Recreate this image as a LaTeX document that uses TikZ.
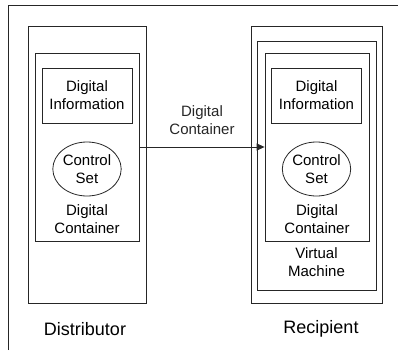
\documentclass[tikz,border=0pt]{standalone}
\usepackage{fontspec}
\setmainfont{Liberation Sans}
\usetikzlibrary{shapes.geometric,arrows.meta}

\begin{document}
\begin{tikzpicture}[x=1pt, y=-1pt, line width=0.8pt,
    box/.style={draw=black!85, rectangle, inner sep=0pt, align=center, font=\fontsize{15}{18}\selectfont},
    oval/.style={draw=black!85, ellipse, inner sep=0pt, align=center, font=\fontsize{15}{18}\selectfont},
    lbl/.style={align=center, inner sep=0pt, font=\fontsize{15}{18}\selectfont},
    side/.style={inner sep=0pt, font=\fontsize{18}{21}\selectfont}]
    \useasboundingbox (0,0) rectangle (398,350);
    % Frame
    \draw[black!85] (8,350) -- (8,5) -- (398,5);

    % Distributor
    \node[box, minimum width=118pt, minimum height=277pt] (dist) at (87,164.5) {};
    \node[box, minimum width=104pt, minimum height=188pt] (dc1) at (87,147) {};
    \node[box, minimum width=90pt, minimum height=55pt] (di1) at (87,95.5) {Digital\\Information};
    \node[oval, minimum width=64pt, minimum height=54pt] (cs1) at (87,169) {Control\\Set};
    \node[lbl] (dcl1) at (87,219.5) {Digital\\Container};
    \node[side] (distl) at (85,329) {Distributor};

    % Recipient
    \node[box, minimum width=131pt, minimum height=277pt] (rec) at (316.5,164.5) {};
    \node[box, minimum width=119pt, minimum height=249pt] (vm) at (316.5,165.5) {};
    \node[box, minimum width=104pt, minimum height=188pt] (dc2) at (317,147) {};
    \node[box, minimum width=90pt, minimum height=55pt] (di2) at (316.5,95.5) {Digital\\Information};
    \node[oval, minimum width=64pt, minimum height=54pt] (cs2) at (316.5,169) {Control\\Set};
    \node[lbl] (dcl2) at (317,219.5) {Digital\\Container};
    \node[lbl] (vml) at (316.5,262.5) {Virtual\\Machine};
    \node[side] (recl) at (321,329) {Recipient};

    % Transfer
    \draw[black!85, -{Triangle[length=8pt,width=7pt]}] (dc1) -- (dc2) node[lbl, midway, above=12pt] {Digital\\Container};
\end{tikzpicture}
\end{document}
